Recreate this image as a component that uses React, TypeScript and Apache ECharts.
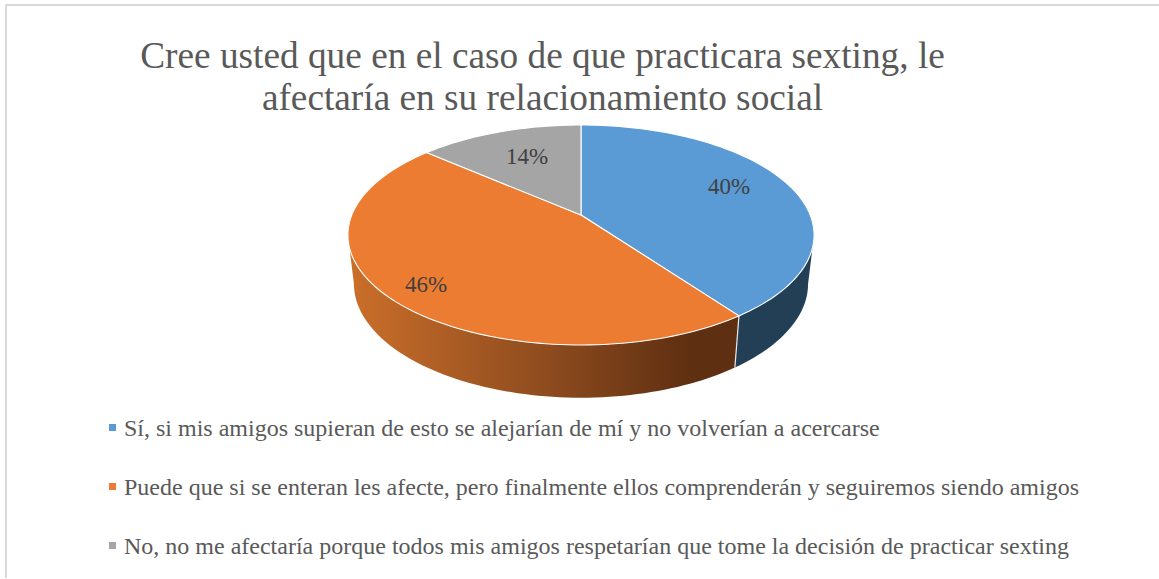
import React, { useEffect, useRef } from "react";
import * as echarts from "echarts";

const titleText = "Cree usted que en el caso de que practicara sexting, le\nafectaría en su relacionamiento social";
const categories = [
  "Sí, si mis amigos supieran de esto se alejarían de mí y no volverían a acercarse",
  "Puede que si se enteran les afecte, pero finalmente ellos comprenderán y seguiremos siendo amigos",
  "No, no me afectaría porque todos mis amigos respetarían que tome la decisión de practicar sexting",
];
const values = [40, 46.4, 13.6];
const colors = ["#5B9BD5", "#EB7C31", "#A5A5A5"];

const FONT = '"Liberation Serif", serif';
const TOP = { ax: 581, ay: 215, d: 229.2, a: 106.36, c: -0.1818 };
const BOTTOM = { ax: 581, ay: 263, d: 223.3, a: 110.2, c: -0.1818 };
const VISIBLE_FROM = 100.5;
const VISIBLE_TO = 259.5;
const labelPlacement = [
  { r: 0.735, dt: -4.5 },
  { r: 0.84, dt: -1.5 },
  { r: 0.67, dt: 1.5 },
];

const total = values.reduce((s, v) => s + v, 0);
const starts = values.map((_, i) => (values.slice(0, i).reduce((s, v) => s + v, 0) / total) * 360);
const ends = values.map((_, i) => (values.slice(0, i + 1).reduce((s, v) => s + v, 0) / total) * 360);

type Proj = typeof TOP;
function project(p: Proj, deg: number, r = 1): number[] {
  const t = (deg * Math.PI) / 180;
  const u = Math.sin(t) * r;
  const v = -Math.cos(t) * r;
  const k = 1 + p.c * v;
  return [p.ax + (p.d * u) / k, p.ay + (p.a * v) / k];
}
function arc(p: Proj, from: number, to: number): number[][] {
  const n = Math.max(2, Math.ceil(Math.abs(to - from) / 1.5));
  const out: number[][] = [];
  for (let i = 0; i <= n; i++) out.push(project(p, from + ((to - from) * i) / n));
  return out;
}

function sideFill(i: number): any {
  if (i === 1) {
    return new echarts.graphic.LinearGradient(0, 0, 1, 0, [
      { offset: 0, color: "#CB6F2A" },
      { offset: 0.5, color: "#8F4C1F" },
      { offset: 0.88, color: "#5E2F11" },
      { offset: 1, color: "#5E2F11" },
    ]);
  }
  return i === 0 ? "#223F56" : "#636363";
}

function renderSlice(params: any, api: any) {
  const i = params.seriesIndex;
  const from = starts[i];
  const to = ends[i];
  const children: any[] = [];

  const sFrom = Math.max(from, VISIBLE_FROM);
  const sTo = Math.min(to, VISIBLE_TO);
  if (sTo > sFrom) {
    const pts = arc(TOP, sFrom, sTo).concat(arc(BOTTOM, sFrom, sTo).reverse());
    children.push({
      type: "polygon",
      shape: { points: pts },
      style: { fill: sideFill(i), stroke: null },
      silent: true,
    });
    if (from >= VISIBLE_FROM) {
      const a = project(TOP, from);
      const b = project(BOTTOM, from);
      children.push({
        type: "line",
        shape: { x1: a[0], y1: a[1], x2: b[0], y2: b[1] },
        style: { stroke: "#E8E8E8", lineWidth: 1.2 },
        silent: true,
      });
    }
  }

  const face = [project(TOP, 0, 0)].concat(arc(TOP, from, to));
  children.push({
    type: "polygon",
    shape: { points: face },
    style: { fill: colors[i], stroke: "#FFFFFF", lineWidth: 1.1, lineJoin: "round" },
    silent: true,
  });

  const pl = labelPlacement[i];
  const pos = project(TOP, (from + to) / 2 + pl.dt, pl.r);
  children.push({
    type: "text",
    x: pos[0],
    y: pos[1],
    style: {
      text: Math.round((api.value(0) / total) * 100) + "%",
      fill: "#404040",
      font: `23px ${FONT}`,
      align: "center",
      verticalAlign: "middle",
    },
    silent: true,
  });
  return { type: "group", children };
}

export default function App() {
  const ref = useRef<HTMLDivElement>(null);
  useEffect(() => {
    document.body.style.margin = "0";
    const chart = echarts.init(ref.current!, null, { renderer: "svg" });
    chart.setOption({
      animation: false,
      backgroundColor: "#FFFFFF",
      title: {
        text: titleText,
        left: 537.5,
        top: 29,
        textAlign: "center",
        textStyle: {
          fontFamily: FONT,
          fontSize: 37.3,
          fontWeight: "normal",
          color: "#595959",
          lineHeight: 42,
        },
      },
      legend: {
        orient: "vertical",
        left: 104,
        top: 410,
        icon: "rect",
        itemWidth: 7,
        itemHeight: 7,
        itemGap: 34,
        selectedMode: false,
        textStyle: {
          fontFamily: FONT,
          fontSize: 24,
          color: "#595959",
          lineHeight: 25,
          padding: [0, 0, 0, 3],
        },
        data: categories,
      },
      graphic: [
        {
          type: "rect",
          shape: { x: 5, y: 4, width: 1154, height: 2 },
          style: { fill: "#D9D9D9" },
          silent: true,
        },
        {
          type: "rect",
          shape: { x: 5, y: 4, width: 2, height: 574 },
          style: { fill: "#D9D9D9" },
          silent: true,
        },
      ],
      series: categories.map((name, i) => ({
        type: "custom",
        name,
        coordinateSystem: "none",
        itemStyle: { color: colors[i] },
        renderItem: renderSlice,
        data: [values[i]],
      })),
    });
    return () => chart.dispose();
  }, []);
  return <div ref={ref} style={{ width: 1159, height: 579 }} />;
}
